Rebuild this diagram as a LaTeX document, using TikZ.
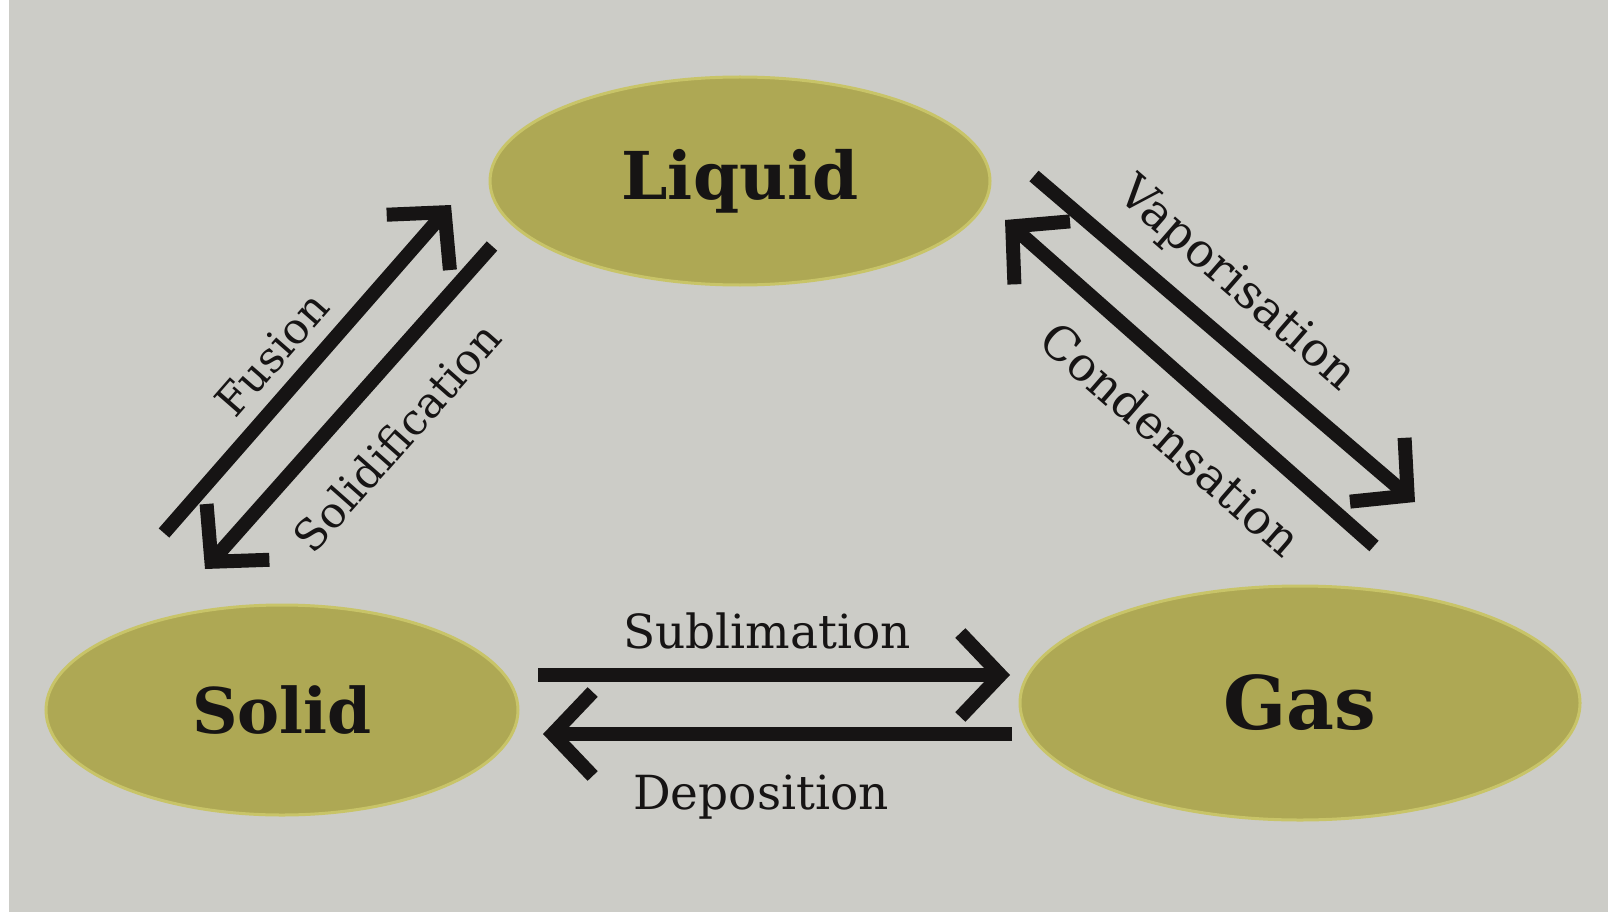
\documentclass[tikz,border=0pt]{standalone}
\usepackage{fontspec}
\setmainfont{DejaVu Serif}
\usetikzlibrary{arrows.meta,shapes.geometric}
\definecolor{paper}{RGB}{204,204,199}
\definecolor{olive}{RGB}{174,168,84}
\definecolor{rim}{RGB}{200,196,104}
\definecolor{ink}{RGB}{22,20,20}
\tikzset{
  phase/.style={ellipse, fill=olive, draw=rim, line width=3pt, inner sep=0pt, text=ink,
    font=\fontsize{66}{66}\selectfont\bfseries},
  flow/.style={draw=ink, line width=14pt, -{Straight Barb[length=40pt,width=84pt]}},
  lbl/.style={text=ink, inner sep=0pt, font=\fontsize{47}{47}\selectfont},
  lbls/.style={text=ink, inner sep=0pt, font=\fontsize{43}{43}\selectfont}
}
\begin{document}
\begin{tikzpicture}[x=1pt,y=-1pt]
\fill[paper] (0,0) rectangle (1608,912);
\fill[white] (0,0) rectangle (9,912);
\useasboundingbox (0,0) rectangle (1608,912);

\node[phase, minimum width=500pt, minimum height=208pt] (liquid) at (740,181) {Liquid};
\node[phase, minimum width=472pt, minimum height=210pt, font=\fontsize{63}{63}\selectfont\bfseries] (solid) at (282,710) {Solid};
\node[phase, minimum width=560pt, minimum height=234pt, font=\fontsize{74}{74}\selectfont\bfseries] (gas) at (1300,703) {Gas};

\coordinate (fA) at (164,533);
\coordinate (fB) at (451,205);
\coordinate (sA) at (492,246);
\coordinate (sB) at (205,569);
\coordinate (vA) at (1034,176);
\coordinate (vB) at (1415,502);
\coordinate (cA) at (1374,546);
\coordinate (cB) at (1005,220);
\coordinate (bA) at (538,675);
\coordinate (bB) at (1010,675);
\coordinate (dA) at (1012,734);
\coordinate (dB) at (543,734);

\draw[flow] (fA) -- (fB);
\draw[flow] (sA) -- (sB);
\draw[flow] (vA) -- (vB);
\draw[flow] (cA) -- (cB);
\draw[flow] (bA) -- (bB);
\draw[flow] (dA) -- (dB);

\node[lbls, rotate=48.8] (fusion) at (272,354) {Fusion};
\node[lbls, rotate=48.5] (solidification) at (397,437) {Solidification};
\node[lbl, rotate=-41] (vaporisation) at (1236,285) {Vaporisation};
\node[lbl, rotate=-41] (condensation) at (1171,439) {Condensation};
\node[lbl] (sublimation) at (767,631) {Sublimation};
\node[lbl] (deposition) at (761,797) {Deposition};
\end{tikzpicture}
\end{document}
